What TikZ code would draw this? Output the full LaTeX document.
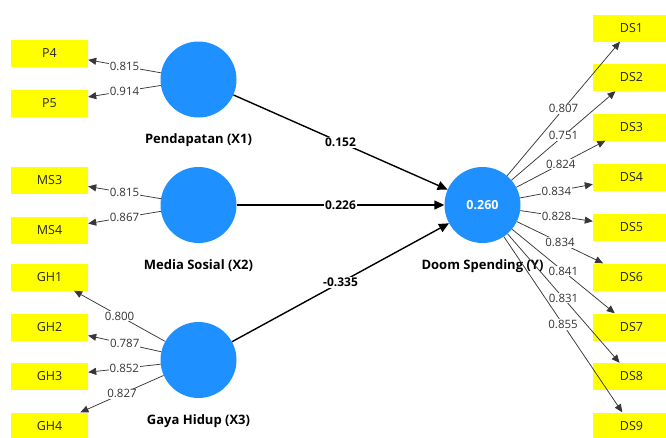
\documentclass[tikz,border=0pt]{standalone}
\usepackage{xcolor}
\definecolor{lvblue}{RGB}{30, 144, 255}
\definecolor{mvyellow}{RGB}{255, 255, 0}
\definecolor{loadgray}{RGB}{55, 55, 55}
\usepackage{fontspec}
\setmainfont{Open Sans}
\usepackage{tikz}
\usetikzlibrary{arrows.meta, positioning}

\begin{document}
\begin{tikzpicture}[
    x=1pt, y=-1pt,
    every node/.style={align=center},
    indicator/.style={rectangle, fill=mvyellow, minimum width=77pt, minimum height=27pt, inner sep=0pt, text=black!85, font=\fontsize{12.5}{13}\selectfont},
    latent/.style={circle, fill=lvblue, minimum size=76pt, inner sep=0pt, text=white, font=\bfseries\fontsize{12.5}{13}\selectfont},
    lvname/.style={font=\bfseries\fontsize{13}{14}\selectfont, inner sep=1pt},
    loading/.style={-{Triangle[length=8pt, width=7pt]}, draw=loadgray, line width=0.75pt},
    pathcoef/.style={-{Triangle[length=10pt, width=9pt]}, line width=1.4pt},
    lval/.style={fill=white, inner sep=0.8pt, font=\fontsize{11.5}{12}\selectfont, text=black!80},
    pval/.style={fill=white, inner sep=1pt, font=\bfseries\fontsize{12}{13}\selectfont}
]
\useasboundingbox (0,0) rectangle (666,437);

% Nodes
\node[latent] (x1) at (198.5,79.5) {};
\node[latent] (x2) at (198.5,205) {};
\node[latent] (x3) at (198.5,360) {};
\node[latent] (y) at (482.5,205) {0.260};
\node[lvname, below=15pt of x1] (x1name) {Pendapatan (X1)};
\node[lvname, below=15pt of x2] (x2name) {Media Sosial (X2)};
\node[lvname, below=15pt of x3] (x3name) {Gaya Hidup (X3)};
\node[lvname, below=15pt of y] (yname) {Doom Spending (Y)};

\node[indicator] (p4) at (49.5,53) {P4};
\node[indicator] (p5) at (49.5,103) {P5};
\node[indicator] (ms3) at (49.5,180) {MS3};
\node[indicator] (ms4) at (49.5,230) {MS4};
\node[indicator] (gh1) at (49.5,277) {GH1};
\node[indicator] (gh2) at (49.5,327) {GH2};
\node[indicator] (gh3) at (49.5,376.5) {GH3};
\node[indicator] (gh4) at (49.5,426) {GH4};

\node[indicator] (ds1) at (631.5,28) {DS1};
\node[indicator] (ds2) at (631.5,77.5) {DS2};
\node[indicator] (ds3) at (631.5,127) {DS3};
\node[indicator] (ds4) at (631.5,177) {DS4};
\node[indicator] (ds5) at (631.5,227) {DS5};
\node[indicator] (ds6) at (631.5,277) {DS6};
\node[indicator] (ds7) at (631.5,327) {DS7};
\node[indicator] (ds8) at (631.5,376.5) {DS8};
\node[indicator] (ds9) at (631.5,426) {DS9};

% Loadings
\draw[loading] (x1) -- node[lval]{0.815} (p4);
\draw[loading] (x1) -- node[lval]{0.914} (p5);
\draw[loading] (x2) -- node[lval]{0.815} (ms3);
\draw[loading] (x2) -- node[lval]{0.867} (ms4);
\draw[loading] (x3) -- node[lval]{0.800} (gh1);
\draw[loading] (x3) -- node[lval]{0.787} (gh2);
\draw[loading] (x3) -- node[lval]{0.852} (gh3);
\draw[loading] (x3) -- node[lval]{0.827} (gh4);

\draw[loading] (y) -- node[lval]{0.807} (ds1);
\draw[loading] (y) -- node[lval]{0.751} (ds2);
\draw[loading] (y) -- node[lval]{0.824} (ds3);
\draw[loading] (y) -- node[lval]{0.834} (ds4);
\draw[loading] (y) -- node[lval]{0.828} (ds5);
\draw[loading] (y) -- node[lval]{0.834} (ds6);
\draw[loading] (y) -- node[lval]{0.841} (ds7);
\draw[loading] (y) -- node[lval]{0.831} (ds8);
\draw[loading] (y) -- node[lval]{0.855} (ds9);

% Paths
\draw[pathcoef] (x1) -- node[pval]{0.152} (y);
\draw[pathcoef] (x2) -- node[pval]{0.226} (y);
\draw[pathcoef] (x3) -- node[pval]{-0.335} (y);

\end{tikzpicture}
\end{document}
